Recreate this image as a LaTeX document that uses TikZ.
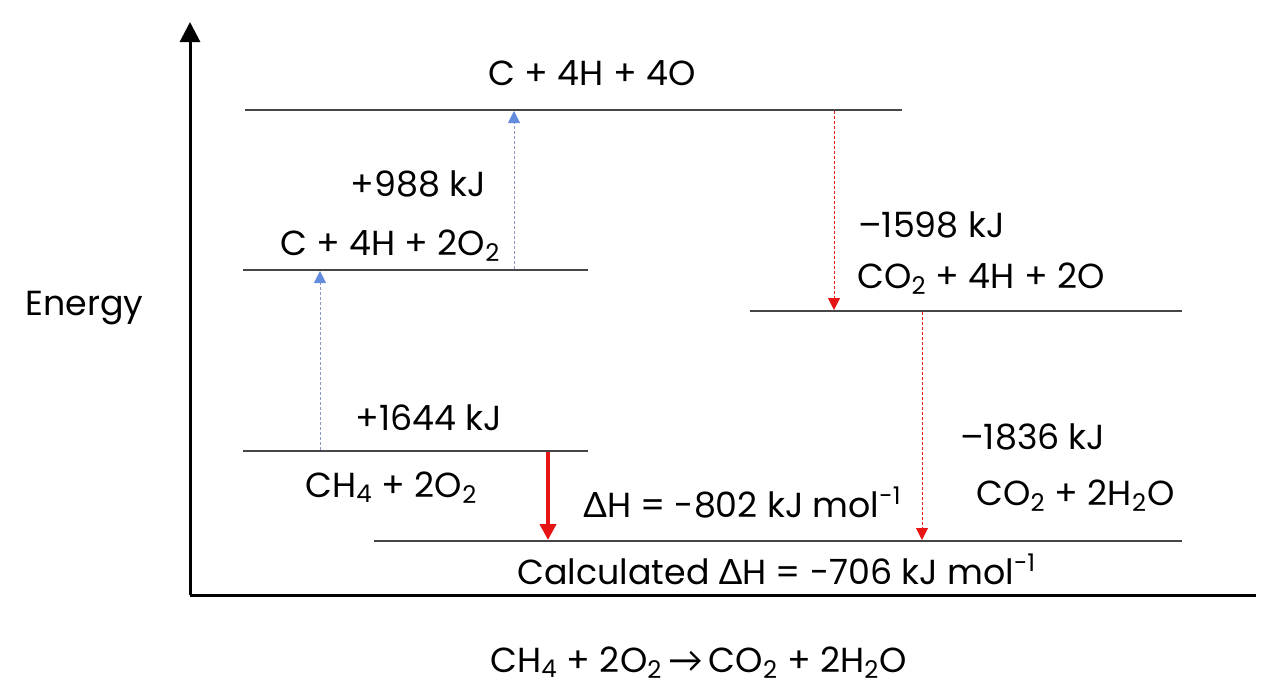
\documentclass[tikz,border=0pt]{standalone}
\usepackage{fontspec}
\setmainfont{Poppins}
\newfontfamily\grkfont{Lato}
\usetikzlibrary{arrows.meta,positioning}
\definecolor{levelgray}{RGB}{70,70,70}
\definecolor{upblue}{RGB}{100,140,220}
\definecolor{dashblue}{RGB}{140,150,190}
\definecolor{downred}{RGB}{230,20,20}
\newcommand{\dH}{{\grkfont\char"0394}H}
\newcommand{\yields}{{\grkfont\char"2192}}
\tikzset{
  font=\fontsize{17.4}{20}\selectfont,
  level/.style={draw=levelgray, line width=0.65pt},
  axis/.style={draw=black, line width=1.5pt},
  lbl/.style={inner sep=0pt, anchor=base west},
  uparrow/.style={draw=dashblue, line width=0.5pt, dash pattern=on 1.5pt off 1pt,
    -{Triangle[width=6pt,length=6pt,color=upblue,fill=upblue]}},
  downarrow/.style={draw=downred, line width=0.5pt, dash pattern=on 1.5pt off 1pt,
    -{Triangle[width=6pt,length=6pt]}},
  totalarrow/.style={draw=downred, line width=2pt, -{Triangle[width=8pt,length=8pt]}}
}
\begin{document}
\begin{tikzpicture}[x=0.5pt, y=-0.5pt]
\useasboundingbox (0,0) rectangle (1280,696);

% --- axes ---
\coordinate (origin) at (190,595);
\coordinate (ytop) at (190,22);
\coordinate (xend) at (1256,595);
\draw[axis, -{Triangle[width=10pt,length=10pt]}] (origin) -- (ytop);
\draw[axis] (origin) -- (xend);
\node[lbl] (energy) at (25,315) {Energy};

% --- energy levels ---
\draw[level] (245,110) coordinate (atomsL) -- (902,110) coordinate (atomsR);
\draw[level] (243,270) coordinate (midL) -- (588,270) coordinate (midR);
\draw[level] (750,311) coordinate (coL) -- (1182,311) coordinate (coR);
\draw[level] (243,451) coordinate (reacL) -- (588,451) coordinate (reacR);
\draw[level] (374,541) coordinate (prodL) -- (1182,541) coordinate (prodR);

% --- level labels ---
\node[inner sep=0pt, anchor=base] (atoms) at (592,85) {C + 4H + 4O};
\node[lbl] (mid) at (280,255) {C + 4H + 2O\textsubscript{2}};
\node[lbl] (co) at (857,288) {CO\textsubscript{2} + 4H + 2O};
\node[lbl] (reac) at (305,497) {CH\textsubscript{4} + 2O\textsubscript{2}};
\node[lbl] (prod) at (976,505) {CO\textsubscript{2} + 2H\textsubscript{2}O};
\node[lbl] (calc) at (517,584) {Calculated \dH{} = -706 kJ mol\textsuperscript{-1}};

% --- step energies ---
\node[lbl] (e988) at (350,196) {+988 kJ};
\node[lbl] (e1644) at (355,430) {+1644 kJ};
\node[lbl] (e1598) at (858,237) {\char"2013 1598 kJ};
\node[lbl] (e1836) at (960,449) {\char"2013 1836 kJ};
\node[lbl] (dh) at (583,517) {\dH{} = -802 kJ mol\textsuperscript{-1}};

% --- arrows between levels ---
\coordinate (up1a) at (320,450);
\coordinate (up1b) at (320,271);
\coordinate (up2a) at (514,269);
\coordinate (up2b) at (514,111);
\coordinate (dn1a) at (834,111);
\coordinate (dn1b) at (834,310);
\coordinate (dn2a) at (922,312);
\coordinate (dn2b) at (922,540);
\coordinate (tota) at (548,452);
\coordinate (totb) at (548,540);
\draw[uparrow] (up1a) -- (up1b);
\draw[uparrow] (up2a) -- (up2b);
\draw[downarrow] (dn1a) -- (dn1b);
\draw[downarrow] (dn2a) -- (dn2b);
\draw[totalarrow] (tota) -- (totb);

% --- overall equation ---
\node[lbl] (eqn) at (490,672) {CH\textsubscript{4} + 2O\textsubscript{2}\,\yields\,CO\textsubscript{2} + 2H\textsubscript{2}O};

\end{tikzpicture}
\end{document}
